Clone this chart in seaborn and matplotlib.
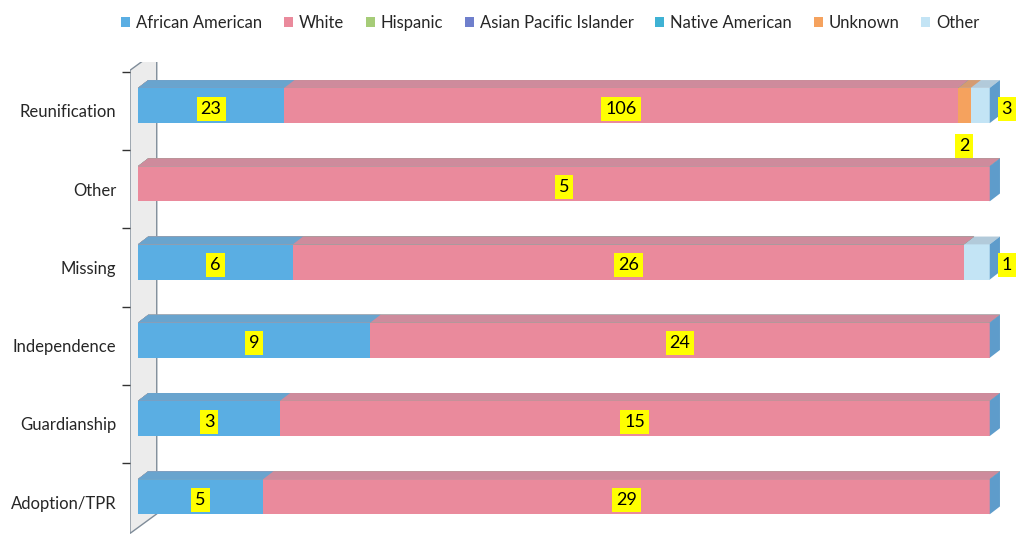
import numpy as np
import pandas as pd
import seaborn as sns
import matplotlib.pyplot as plt
import matplotlib.colors as mcolors
from matplotlib.patches import Polygon, Patch

###### data ######
outcomes = ['Reunification', 'Other', 'Missing', 'Independence', 'Guardianship', 'Adoption/TPR']
races = ['African American', 'White', 'Hispanic', 'Asian Pacific Islander',
         'Native American', 'Unknown', 'Other']
african_american = [23, 0, 6, 9, 3, 5]
white = [106, 5, 26, 24, 15, 29]
hispanic = [0, 0, 0, 0, 0, 0]
asian_pacific = [0, 0, 0, 0, 0, 0]
native_american = [0, 0, 0, 0, 0, 0]
unknown = [2, 0, 0, 0, 0, 0]
other = [3, 0, 1, 0, 0, 0]

palette = {'African American': '#5aaee3', 'White': '#ea8a9c', 'Hispanic': '#a6cc78',
           'Asian Pacific Islander': '#6f7fcc', 'Native American': '#3fb2d4',
           'Unknown': '#f5a25e', 'Other': '#c3e4f5'}

counts = pd.DataFrame([african_american, white, hispanic, asian_pacific,
                       native_american, unknown, other], index=races, columns=outcomes)
pct = counts / counts.sum(axis=0) * 100
cum = pct.cumsum(axis=0)

rows = []
for r in races:
    for o in outcomes:
        rows.append({'race': r, 'outcome': o, 'count': counts.loc[r, o],
                     'pct': pct.loc[r, o], 'cum': cum.loc[r, o]})
df = pd.DataFrame(rows)

###### style ######
sns.set_style('white')
plt.rcParams['font.family'] = ['Lato', 'DejaVu Sans']

fig = plt.figure(figsize=(10.17, 5.35), dpi=100)
ax = fig.add_axes([130 / 1017, 0, 887 / 1017, 1 - 62 / 535])

def shade(c, amt, toward='#8c8c9c'):
    a = np.array(mcolors.to_rgb(c))
    b = np.array(mcolors.to_rgb(toward))
    return tuple(a * (1 - amt) + b * amt)

# depth of the 3d look (data units)
dx, dy = 1.2, 0.10

# back wall
wall = Polygon([(-0.94, 5.47), (-0.94, -0.45), (2.2, -0.45 - 0.25), (2.2, 5.47 - 0.25)],
               closed=True, facecolor='#ececec', edgecolor='#7f8c99', lw=1.0, zorder=0)
ax.add_patch(wall)

###### stacked bars (overlay of cumulative widths) ######
layers = {}
for r in reversed(races):
    n0 = len(ax.patches)
    sns.barplot(data=df[df['race'] == r], x='cum', y='outcome', order=outcomes,
                color=palette[r], saturation=1, width=0.45, orient='h',
                errorbar=None, linewidth=0, edgecolor='none', ax=ax, zorder=2)
    layers[r] = ax.patches[n0:]

# top faces and right side face
for r in reversed(races):
    for p in layers[r]:
        x0, y0, w, h = p.get_x(), p.get_y(), p.get_width(), p.get_height()
        if w <= 0:
            continue
        top = Polygon([(x0, y0), (x0 + dx, y0 - dy), (x0 + w + dx, y0 - dy), (x0 + w, y0)],
                      closed=True, facecolor=shade(palette[r], 0.3), edgecolor='none', zorder=2)
        ax.add_patch(top)
for p in layers['Other']:
    x1, y0, h = p.get_x() + p.get_width(), p.get_y(), p.get_height()
    side = Polygon([(x1, y0), (x1 + dx, y0 - dy), (x1 + dx, y0 + h - dy), (x1, y0 + h)],
                   closed=True, facecolor='#5e9ccb', edgecolor='none', zorder=2)
    ax.add_patch(side)

###### data labels ######
box = dict(boxstyle='square,pad=0.22', facecolor='#ffff00', edgecolor='none')
for r in races:
    for i, o in enumerate(outcomes):
        v = counts.loc[r, o]
        if v == 0:
            continue
        yc = i + 0.04
        xc = cum.loc[r, o] - pct.loc[r, o] / 2
        if r == 'Unknown':
            yc = i + 0.52
        elif r == 'Other' and pct.loc[r, o] < 5:
            xc = 102.0
        ax.text(xc, yc, str(v), ha='center', va='center', fontsize=13,
                color='black', bbox=box, zorder=5, clip_on=False)

###### axes ######
ax.set_xlim(-0.94, 103.2)
ax.set_ylim(5.49, -0.556)
ax.set_xlabel('')
ax.set_ylabel('')
ax.set_xticks([])
ax.set_yticks(np.arange(len(outcomes)) + 0.07)
ax.set_yticklabels(outcomes, fontsize=12)
ax.set_yticks(np.arange(len(outcomes)) - 0.43, minor=True)
ax.tick_params(axis='y', which='major', length=0, pad=10)
ax.tick_params(axis='y', which='minor', length=6, width=1, color='#333333', direction='out', left=True)
for s in ax.spines.values():
    s.set_visible(False)

handles = [Patch(facecolor=palette[r], edgecolor='none', label=r) for r in races]
fig.legend(handles=handles, loc='upper center', bbox_to_anchor=(0.541, 1.0), ncol=7,
           frameon=False, fontsize=12, handlelength=0.55, handleheight=0.55,
           handletextpad=0.35, columnspacing=1.3)

fig.savefig('out.png', dpi=100)
